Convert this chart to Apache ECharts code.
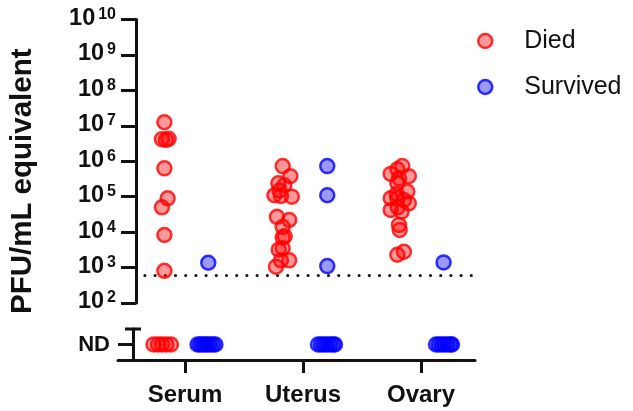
<!DOCTYPE html>
<html>
<head>
<meta charset="utf-8">
<script src="https://cdn.jsdelivr.net/npm/echarts@6/dist/echarts.min.js"></script>
<style>
  html, body { margin: 0; padding: 0; background: #ffffff; }
  #chart { width: 633px; height: 411px; }
</style>
</head>
<body>
<div id="chart"></div>
<script>
// Tissues on the x axis
const tissues = ['Serum', 'Uterus', 'Ovary'];

// Decade ticks on the titre axis
const decadeTicks = [1e2, 1e3, 1e4, 1e5, 1e6, 1e7, 1e8, 1e9, 1e10];

// Limit of detection (dotted line)
const detectionLimit = 600;

// Detectable titres, PFU/mL equivalent, with the horizontal spread of each dot (category units)
const serumDied = [1.26e7, 4.2e6, 4.0e6, 4.3e6, 6.3e5, 9.0e4, 5.0e4, 8.3e3, 8.1e2];
const serumDiedSpread = [-0.197, -0.218, -0.184, -0.161, -0.197, -0.169, -0.218, -0.197, -0.197];

const serumSurvived = [1.37e3];
const serumSurvivedSpread = [0.178];

const uterusDied = [7.3e5, 3.8e5, 2.4e5, 2.1e5, 1.5e5, 1.1e5, 1.05e5, 1.0e5, 2.7e4, 2.2e4,
                    1.4e4, 7.1e3, 7.6e3, 3.5e3, 3.2e3, 1.6e3, 1.6e3, 1.06e3];
const uterusDiedSpread = [-0.186, -0.121, -0.223, -0.172, -0.212, -0.257, -0.201, -0.108, -0.235, -0.130,
                          -0.186, -0.186, -0.169, -0.186, -0.220, -0.201, -0.130, -0.243];

const uterusSurvived = [7.3e5, 1.1e5, 1.1e3];
const uterusSurvivedSpread = [0.195, 0.195, 0.195];

const ovaryDied = [7.3e5, 5.9e5, 4.4e5, 3.8e5, 3.3e5, 2.4e5, 1.4e5, 1.2e5, 9.0e4, 9.0e4,
                   8.1e4, 6.5e4, 5.0e4, 4.2e4, 3.8e4, 1.6e4, 1.15e4, 2.8e3, 2.3e3];
const ovaryDiedSpread = [-0.164, -0.206, -0.263, -0.108, -0.192, -0.206, -0.121, -0.212, -0.263, -0.206,
                         -0.150, -0.108, -0.203, -0.263, -0.169, -0.192, -0.186, -0.150, -0.206];

const ovarySurvived = [1.4e3];
const ovarySurvivedSpread = [0.189];

// Animals with no detectable virus (ND): one spread entry per animal
const serumDiedND = [-0.267, -0.229, -0.195, -0.157, -0.119];
const serumSurvivedND = [0.106, 0.127, 0.148, 0.169, 0.191, 0.212, 0.237, 0.258];
const uterusDiedND = [];
const uterusSurvivedND = [0.127, 0.153, 0.178, 0.203, 0.229, 0.254, 0.271];
const ovaryDiedND = [];
const ovarySurvivedND = [0.127, 0.151, 0.176, 0.200, 0.225, 0.250, 0.263];

const FONT = 'Liberation Sans, Arial, sans-serif';
const INK = '#111111';

const diedStyle = { color: 'rgba(255,0,0,0.5)', borderColor: '#ff0000', borderWidth: 2.5 };
const survivedStyle = { color: 'rgba(0,0,255,0.5)', borderColor: '#0000ff', borderWidth: 2.5 };

function dots(tissueIndex, values, spread) {
  return values.map((v, i) => [tissueIndex + spread[i], v]);
}
function ndDots(tissueIndex, spread) {
  return spread.map(s => [tissueIndex + s, 1]);
}

const groups = [
  { name: 'Died', style: diedStyle,
    detect: [[serumDied, serumDiedSpread], [uterusDied, uterusDiedSpread], [ovaryDied, ovaryDiedSpread]],
    nd: [serumDiedND, uterusDiedND, ovaryDiedND] },
  { name: 'Survived', style: survivedStyle,
    detect: [[serumSurvived, serumSurvivedSpread], [uterusSurvived, uterusSurvivedSpread], [ovarySurvived, ovarySurvivedSpread]],
    nd: [serumSurvivedND, uterusSurvivedND, ovarySurvivedND] }
];

const series = [];
// dotted limit-of-detection line
series.push({
  type: 'line', xAxisIndex: 0, yAxisIndex: 0, silent: true, symbol: 'none', z: 1,
  data: [[-0.364, detectionLimit], [2.4576, detectionLimit]],
  lineStyle: { color: INK, width: 3, type: [0.1, 10.1], cap: 'round' }
});
groups.forEach(g => {
  const top = [];
  g.detect.forEach((pair, t) => top.push(...dots(t, pair[0], pair[1])));
  const bottom = [];
  g.nd.forEach((spread, t) => bottom.push(...ndDots(t, spread)));
  series.push({
    name: g.name, type: 'scatter', xAxisIndex: 0, yAxisIndex: 0, z: 3,
    symbol: 'circle', symbolSize: 14, itemStyle: g.style, data: top
  });
  series.push({
    name: g.name, type: 'scatter', xAxisIndex: 1, yAxisIndex: 1, z: 3,
    symbol: 'circle', symbolSize: 14, itemStyle: g.style, data: bottom
  });
});

const xMin = -0.5678, xMax = 2.4576;

const option = {
  animation: false,
  backgroundColor: '#ffffff',
  legend: {
    orient: 'vertical',
    left: 472, top: 22,
    icon: 'circle',
    itemWidth: 68, itemHeight: 14, itemGap: 18,
    textStyle: { fontFamily: FONT, fontSize: 25, lineHeight: 28, color: INK },
    data: [
      { name: 'Died', itemStyle: diedStyle },
      { name: 'Survived', itemStyle: survivedStyle }
    ]
  },
  grid: [
    { left: 118, width: 357, top: 19.5, height: 283.5 },
    { left: 118, width: 357, top: 329, height: 31 }
  ],
  xAxis: [
    { type: 'value', gridIndex: 0, min: xMin, max: xMax, show: false },
    {
      type: 'value', gridIndex: 1, min: xMin, max: xMax,
      axisLine: { onZero: false, lineStyle: { color: INK, width: 3 } },
      axisTick: { show: true, length: 13, customValues: [0, 1, 2], lineStyle: { color: INK, width: 3 } },
      axisLabel: {
        customValues: [0, 1, 2], margin: 23,
        formatter: v => tissues[Math.round(v)],
        fontFamily: FONT, fontSize: 24, fontWeight: 'bold', color: INK
      },
      splitLine: { show: false }
    }
  ],
  yAxis: [
    {
      type: 'log', logBase: 10, gridIndex: 0, min: 1e2, max: 1e10, interval: 1,
      offset: -15,
      name: 'PFU/mL equivalent', nameLocation: 'middle', nameRotate: 90, nameGap: 98,
      nameTextStyle: { fontFamily: FONT, fontSize: 29.5, fontWeight: 'bold', color: INK, padding: [0, 40, 0, 0] },
      axisLine: { show: true, onZero: false, lineStyle: { color: INK, width: 3 } },
      axisTick: { show: true, length: 15, lineStyle: { color: INK, width: 3 } },
      axisLabel: {
        margin: 20,
        formatter: v => '{b|10}{s|' + Math.round(Math.log10(v)) + '}',
        rich: {
          b: { fontFamily: FONT, fontSize: 23.5, fontWeight: 'bold', color: INK, padding: [0, 0, 2, 0] },
          s: { fontFamily: FONT, fontSize: 16, fontWeight: 'bold', color: INK, verticalAlign: 'top', padding: [0, 0, 0, 3] }
        }
      },
      splitLine: { show: false }
    },
    {
      type: 'value', gridIndex: 1, min: 0, max: 2,
      offset: -15,
      axisLine: { show: true, onZero: false, symbol: ['none', 'rect'], symbolSize: [16, 3], lineStyle: { color: INK, width: 3 } },
      axisTick: { show: true, length: 15, customValues: [1], lineStyle: { color: INK, width: 3 } },
      axisLabel: {
        customValues: [1], margin: 23, formatter: () => 'ND',
        fontFamily: FONT, fontSize: 22, fontWeight: 'bold', color: INK
      },
      splitLine: { show: false }
    }
  ],
  series: series
};

const chart = echarts.init(document.getElementById('chart'), null, { renderer: 'canvas' });
chart.setOption(option);
</script>
</body>
</html>
